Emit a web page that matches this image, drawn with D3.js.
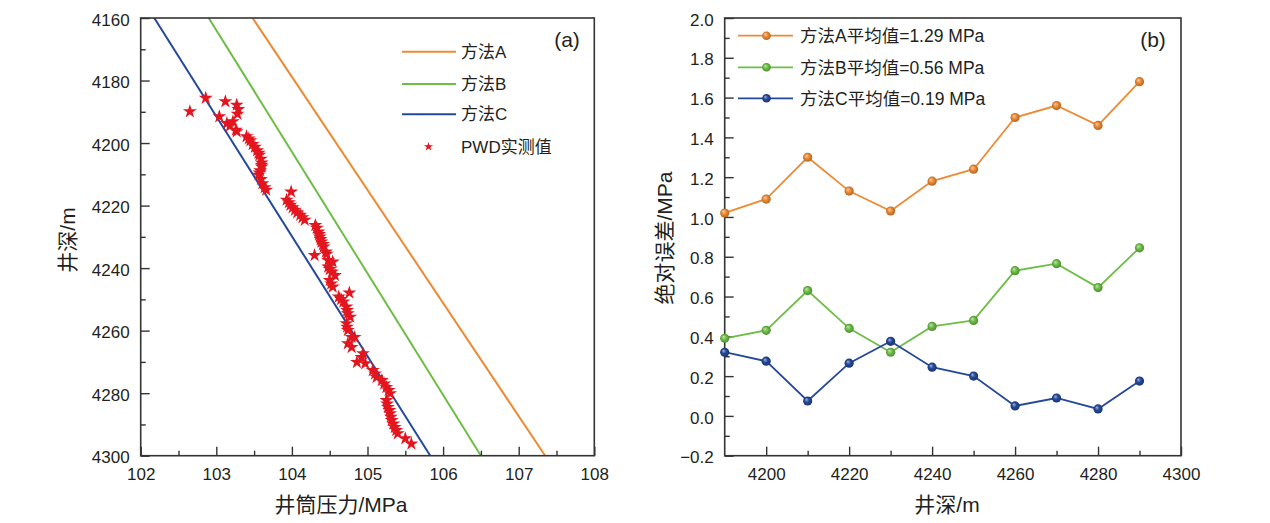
<!DOCTYPE html>
<html>
<head>
<meta charset="utf-8">
<script src="https://cdn.jsdelivr.net/npm/d3@7"></script>
<style>
  html, body { margin: 0; padding: 0; background: #fff; }
  svg { display: block; }
  text { font-family: "Liberation Sans", Arial, "Noto Sans CJK SC", sans-serif; fill: #231F20; }
</style>
</head>
<body>
<svg id="chart" width="1270" height="523"></svg>
<script>
// ---------- DATA ----------
// Panel (a): model lines, endpoints [pressure MPa, depth m]
const methodA = [[103.48, 4160], [107.35, 4300]];
const methodB = [[102.90, 4160], [106.50, 4300]];
const methodC = [[102.18, 4160], [105.83, 4300]];
// PWD measured [pressure MPa, depth m]
const pwdPressure = [
  102.65,102.86,103.12,103.27,103.28,103.29,103.04,103.22,103.14,103.18,103.26,103.27,
  103.40,103.43,103.45,103.48,103.51,103.54,103.56,103.57,103.59,103.60,103.60,103.60,103.58,103.57,103.56,103.59,103.61,103.64,103.66,
  103.99,103.93,103.96,103.98,104.01,104.04,104.07,104.11,104.14,104.17,
  104.31,104.33,104.35,104.36,104.37,104.38,104.39,104.41,104.42,104.45,104.46,
  104.30,
  104.48,104.54,104.48,104.50,104.53,104.57,104.50,104.52,104.54,
  104.76,104.62,104.65,104.68,104.72,104.73,104.74,104.77,104.72,104.73,104.74,104.79,104.83,104.74,104.79,104.94,104.92,104.86,104.97,
  105.07,105.10,105.12,105.19,105.22,105.25,105.28,105.30,
  105.25,105.26,105.27,105.29,105.30,105.31,105.32,105.34,105.36,105.38,105.40,105.50,105.58
];
const pwdDepth = [
  4189.9,4185.6,4186.7,4187.8,4190.7,4189.2,4191.5,4193.1,4193.7,4194.5,4195.8,4196.3,
  4197.9,4198.6,4199.2,4200.4,4201.3,4202.4,4203.2,4203.8,4205.1,4206.3,4207.0,4207.6,4208.8,4209.5,4210.2,4211.6,4212.9,4214.2,4215.0,
  4215.6,4218.2,4219.0,4219.8,4220.6,4221.4,4222.2,4223.0,4223.8,4224.6,
  4226.3,4227.2,4228.4,4229.2,4230.0,4230.8,4231.6,4232.4,4233.2,4234.8,4235.5,
  4235.9,
  4237.5,4238.0,4239.6,4240.4,4241.2,4242.3,4243.9,4245.0,4246.0,
  4247.9,4249.2,4250.0,4250.8,4252.4,4253.5,4254.5,4255.6,4257.7,4258.8,4259.9,4262.1,4262.1,4264.1,4265.3,4267.3,4268.5,4270.1,4270.5,
  4272.7,4273.8,4274.9,4275.9,4277.0,4278.1,4279.1,4280.1,
  4282.3,4283.4,4284.5,4285.5,4286.5,4287.6,4288.7,4289.8,4290.9,4291.9,4292.9,4294.5,4296.2
];
// Panel (b): absolute error vs depth
const depthsB = [4190, 4200, 4210, 4220, 4230, 4240, 4250, 4260, 4270, 4280, 4290];
const errA = [1.02, 1.09, 1.30, 1.13, 1.03, 1.18, 1.24, 1.50, 1.56, 1.46, 1.68];
const errB = [0.39, 0.43, 0.63, 0.44, 0.32, 0.45, 0.48, 0.73, 0.765, 0.645, 0.845];
const errC = [0.32, 0.275, 0.075, 0.265, 0.375, 0.245, 0.20, 0.05, 0.09, 0.035, 0.175];
// Labels
const legendA = ["方法A", "方法B", "方法C", "PWD实测值"];
const legendB = ["方法A平均值=1.29 MPa", "方法B平均值=0.56 MPa", "方法C平均值=0.19 MPa"];
const xTicksA = [102, 103, 104, 105, 106, 107, 108];
const yTicksA = [4160, 4180, 4200, 4220, 4240, 4260, 4280, 4300];
const xTicksB = [4200, 4220, 4240, 4260, 4280, 4300];
const yTicksB = [-0.2, 0.0, 0.2, 0.4, 0.6, 0.8, 1.0, 1.2, 1.4, 1.6, 1.8, 2.0];

// ---------- STYLE ----------
const COL_A = "#EE8A33", COL_B = "#6DBE45", COL_C = "#24489A", COL_STAR = "#E3161F";
const AXIS = "#333333";
const svg = d3.select("#chart");

const defs = svg.append("defs");
function sphereGrad(id, col) {
  const g = defs.append("radialGradient").attr("id", id)
    .attr("cx", "50%").attr("cy", "50%").attr("r", "55%").attr("fx", "35%").attr("fy", "32%");
  g.append("stop").attr("offset", "0%").attr("stop-color", d3.interpolateRgb(col, "#fff")(0.6));
  g.append("stop").attr("offset", "45%").attr("stop-color", col);
  g.append("stop").attr("offset", "100%").attr("stop-color", d3.interpolateRgb(col, "#000")(0.3));
}
sphereGrad("gA", COL_A); sphereGrad("gB", COL_B); sphereGrad("gC", COL_C);

// ---------- helpers ----------
function drawAxes(g, x, y, xMajor, xMinor, yMajor, yMinor, xFmt, yFmt) {
  const xr = x.range(), yr = y.range();
  const left = Math.min(...xr), right = Math.max(...xr);
  const top = Math.min(...yr), bottom = Math.max(...yr);
  const mk = (axisGen, tr) => {
    const a = g.append("g").attr("transform", tr).call(axisGen);
    a.select(".domain").remove();
    a.selectAll(".tick line").attr("stroke", AXIS).attr("stroke-width", 1.4);
    a.selectAll(".tick text").style("font-size", "17px").attr("fill", "#231F20")
      .style("font-family", '"Liberation Sans", Arial, sans-serif');
    return a;
  };
  mk(d3.axisBottom(x).tickValues(xMinor).tickSize(-5).tickSizeOuter(0).tickFormat(""), `translate(0,${bottom})`);
  mk(d3.axisLeft(y).tickValues(yMinor).tickSize(-5).tickSizeOuter(0).tickFormat(""), `translate(${left},0)`);
  mk(d3.axisBottom(x).tickValues(xMajor).tickSize(-9).tickSizeOuter(0).tickPadding(12).tickFormat(xFmt), `translate(0,${bottom})`);
  const ya = mk(d3.axisLeft(y).tickValues(yMajor).tickSize(-9).tickSizeOuter(0).tickPadding(11).tickFormat(yFmt), `translate(${left},0)`);
  ya.selectAll(".tick text").attr("dy", "0.42em");
  g.append("rect").attr("x", left).attr("y", top).attr("width", right - left).attr("height", bottom - top)
    .attr("fill", "none").attr("stroke", AXIS).attr("stroke-width", 1.6);
}

// ---------- PANEL (a) ----------
const xA = d3.scaleLinear().domain([102, 108]).range([140.7, 594.3]);
const yA = d3.scaleLinear().domain([4160, 4300]).range([18, 455.7]);
const ga = svg.append("g");
defs.append("clipPath").attr("id", "clipA").append("rect")
  .attr("x", 140.7).attr("y", 18).attr("width", 594.3 - 140.7).attr("height", 455.7 - 18);

const lineA = d3.line().x(d => xA(d[0])).y(d => yA(d[1]));
const plotA = ga.append("g").attr("clip-path", "url(#clipA)");
[[methodA, COL_A], [methodB, COL_B], [methodC, COL_C]].forEach(([d, c]) => {
  plotA.append("path").datum(d).attr("d", lineA).attr("fill", "none").attr("stroke", c).attr("stroke-width", 2);
});
const star = d3.symbol().type(d3.symbolStar).size(60);
plotA.selectAll("path.star").data(d3.range(pwdPressure.length)).join("path")
  .attr("class", "star")
  .attr("transform", i => `translate(${xA(pwdPressure[i])},${yA(pwdDepth[i])})`)
  .attr("d", star).attr("fill", COL_STAR);

drawAxes(ga, xA, yA,
  xTicksA, d3.range(102.5, 108, 1),
  yTicksA, d3.range(4170, 4300, 20),
  d3.format("d"), d3.format("d"));

// legend (a)
const legA = ga.append("g");
const legColsA = [COL_A, COL_B, COL_C];
const legYA = [51.7, 84, 114.3, 146.7];
for (let i = 0; i < 3; i++) {
  legA.append("line").attr("x1", 402).attr("x2", 456).attr("y1", legYA[i]).attr("y2", legYA[i])
    .attr("stroke", legColsA[i]).attr("stroke-width", 2);
}
legA.append("path").attr("transform", `translate(428.5,${legYA[3]})`)
  .attr("d", d3.symbol().type(d3.symbolStar).size(26)).attr("fill", COL_STAR);
legendA.forEach((t, i) => {
  legA.append("text").attr("x", 461).attr("y", legYA[i]).attr("dy", "0.36em")
    .style("font-size", "17px").text(t);
});
ga.append("text").attr("x", 567).attr("y", 40).attr("dy", "0.35em").attr("text-anchor", "middle")
  .style("font-size", "21px").text("(a)");
ga.append("text").attr("x", 341).attr("y", 505).attr("dy", "0.35em").attr("text-anchor", "middle")
  .style("font-size", "21px").text("井筒压力/MPa");
ga.append("text").attr("transform", "translate(68,240) rotate(-90)").attr("dy", "0.35em")
  .attr("text-anchor", "middle").style("font-size", "21px").text("井深/m");

// ---------- PANEL (b) ----------
const xB = d3.scaleLinear().domain([4190, 4300]).range([724.7, 1181]);
const yB = d3.scaleLinear().domain([-0.2, 2.0]).range([455.7, 18]);
const gb = svg.append("g");
drawAxes(gb, xB, yB,
  xTicksB, d3.range(4210, 4300, 20),
  yTicksB, d3.range(-0.1, 2.0, 0.2),
  d3.format("d"), d => (d < 0 ? "\u2212" : "") + d3.format(".1f")(Math.abs(d)));

const lineB = d3.line().x((d, i) => xB(depthsB[i])).y(d => yB(d));
[[errA, COL_A, "gA"], [errB, COL_B, "gB"], [errC, COL_C, "gC"]].forEach(([d, c, gid]) => {
  gb.append("path").datum(d).attr("d", lineB).attr("fill", "none").attr("stroke", c).attr("stroke-width", 1.8);
  gb.append("g").selectAll("circle").data(d).join("circle")
    .attr("cx", (v, i) => xB(depthsB[i])).attr("cy", v => yB(v)).attr("r", 4.6)
    .attr("fill", `url(#${gid})`);
});

const legYB = [35.7, 67.3, 98.3];
const legColsB = [[COL_A, "gA"], [COL_B, "gB"], [COL_C, "gC"]];
legendB.forEach((t, i) => {
  gb.append("line").attr("x1", 738).attr("x2", 793).attr("y1", legYB[i]).attr("y2", legYB[i])
    .attr("stroke", legColsB[i][0]).attr("stroke-width", 1.8);
  gb.append("circle").attr("cx", 766.5).attr("cy", legYB[i]).attr("r", 4.3).attr("fill", `url(#${legColsB[i][1]})`);
  gb.append("text").attr("x", 800).attr("y", legYB[i]).attr("dy", "0.36em")
    .style("font-size", "17.5px").text(t);
});
gb.append("text").attr("x", 1153).attr("y", 40).attr("dy", "0.35em").attr("text-anchor", "middle")
  .style("font-size", "21px").text("(b)");
gb.append("text").attr("x", 947).attr("y", 505).attr("dy", "0.35em").attr("text-anchor", "middle")
  .style("font-size", "21px").text("井深/m");
gb.append("text").attr("transform", "translate(665,238) rotate(-90)").attr("dy", "0.35em")
  .attr("text-anchor", "middle").style("font-size", "21px").text("绝对误差/MPa");
</script>
</body>
</html>
